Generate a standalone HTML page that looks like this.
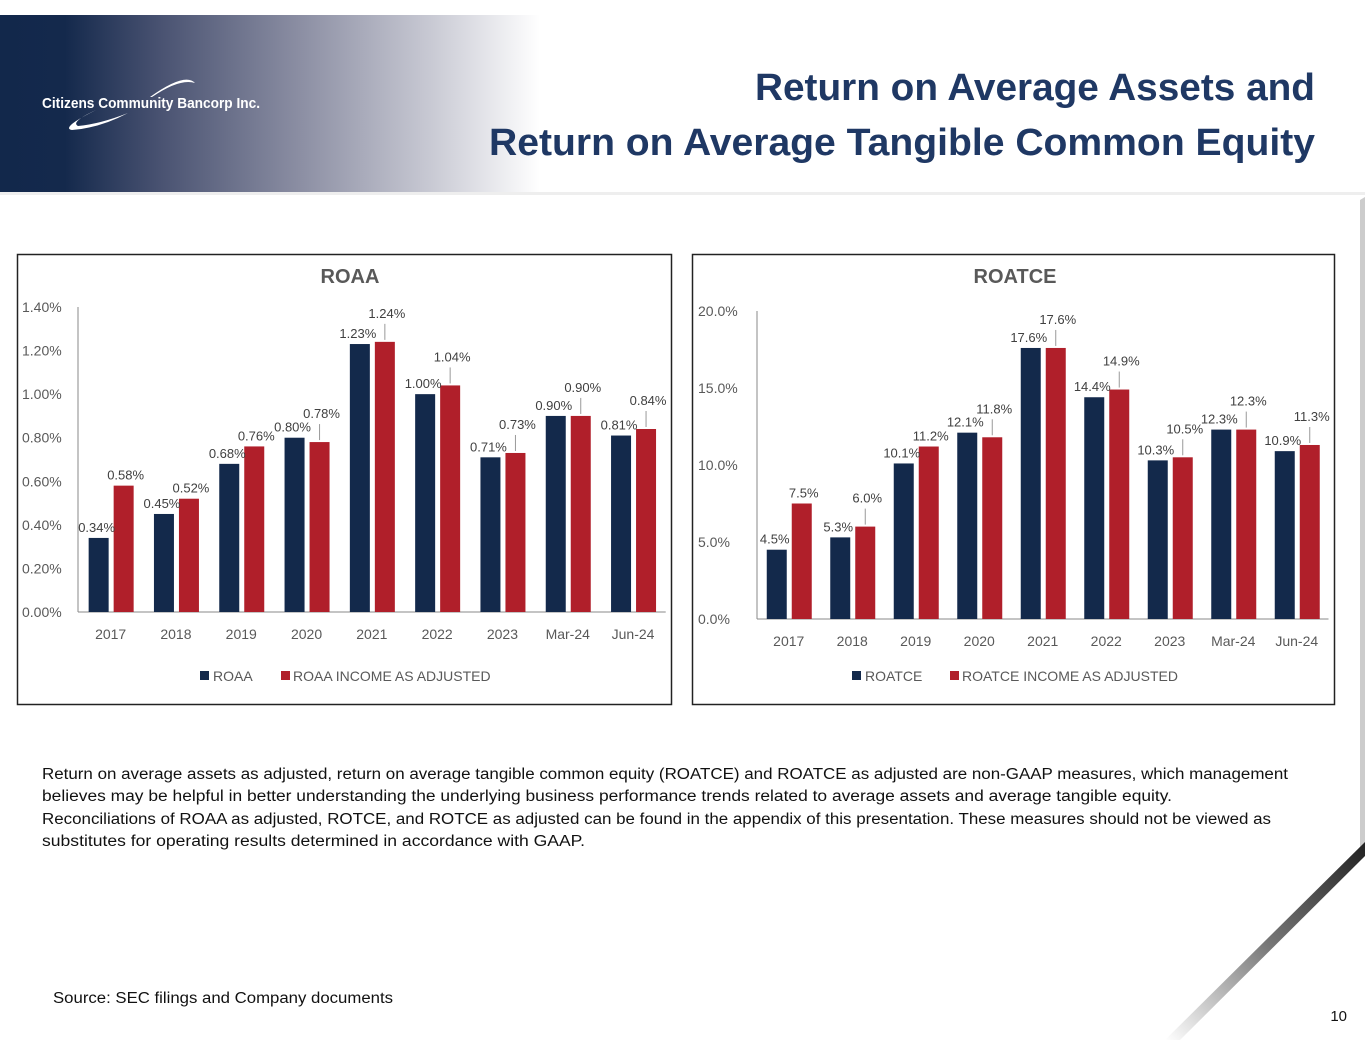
<!DOCTYPE html>
<html><head><meta charset="utf-8"><style>
html,body{margin:0;padding:0;background:#fff;}
svg{display:block;font-family:"Liberation Sans",sans-serif;}
</style></head><body>
<svg id="page" width="1365" height="1055" viewBox="0 0 1365 1055">
<defs>
<linearGradient id="hdr" x1="0" x2="1" y1="0" y2="0">
<stop offset="0" stop-color="#12284b"/><stop offset="0.12" stop-color="#14294c"/><stop offset="0.3" stop-color="#4a5372"/><stop offset="0.55" stop-color="#8a8da2"/><stop offset="0.8" stop-color="#c9cad4"/><stop offset="1" stop-color="#ffffff"/>
</linearGradient>
<linearGradient id="corner" x1="0" x2="1" y1="1" y2="0">
<stop offset="0" stop-color="#ffffff"/><stop offset="0.5" stop-color="#777"/><stop offset="1" stop-color="#222"/>
</linearGradient>
</defs>
<rect x="0" y="15" width="540" height="180" fill="url(#hdr)"/>
<rect x="0" y="192" width="1365" height="3" fill="#eee"/>
<g>
<text x="42" y="108" fill="#fff" font-size="15" font-weight="bold" textLength="218" lengthAdjust="spacingAndGlyphs">Citizens Community Bancorp Inc.</text>
<path d="M150 97 Q185 72 195 83 Q180 78 152 97 Z" fill="#fff"/>
<path d="M96 110 Q60 128 72 130 Q100 128 128 113 Q100 124 78 126 Q70 122 96 110 Z" fill="#fff"/>
</g>
<text x="1315" y="100" text-anchor="end" fill="#1f3864" font-size="38" font-weight="bold" textLength="560" lengthAdjust="spacingAndGlyphs">Return on Average Assets and</text>
<text x="1315" y="155" text-anchor="end" fill="#1f3864" font-size="38" font-weight="bold" textLength="826" lengthAdjust="spacingAndGlyphs">Return on Average Tangible Common Equity</text>

<rect x="17.5" y="254.5" width="654" height="450" fill="#fff" stroke="#222" stroke-width="1.5"/>
<rect x="692.5" y="254.5" width="642" height="450" fill="#fff" stroke="#222" stroke-width="1.5"/>
<g id="roaa"></g>
<g id="roatce"></g>

<g font-size="15.5" fill="#111">
<text x="42" y="779" textLength="1246" lengthAdjust="spacingAndGlyphs">Return on average assets as adjusted, return on average tangible common equity (ROATCE) and ROATCE as adjusted are non-GAAP measures, which management</text>
<text x="42" y="801" textLength="1130" lengthAdjust="spacingAndGlyphs">believes may be helpful in better understanding the underlying business performance trends related to average assets and average tangible equity.</text>
<text x="42" y="824" textLength="1229" lengthAdjust="spacingAndGlyphs">Reconciliations of ROAA as adjusted, ROTCE, and ROTCE as adjusted can be found in the appendix of this presentation. These measures should not be viewed as</text>
<text x="42" y="846" textLength="543" lengthAdjust="spacingAndGlyphs">substitutes for operating results determined in accordance with GAAP.</text>
</g>
<text x="53" y="1003" font-size="15.5" fill="#111" textLength="340" lengthAdjust="spacingAndGlyphs">Source: SEC filings and Company documents</text>
<text x="1347" y="1021" font-size="15" fill="#111" text-anchor="end">10</text>
<polygon points="1360,200 1365,197 1365,845 1360,850" fill="#ccc"/>
<polygon points="1365,842 1365,856 1180,1040 1165,1040" fill="url(#corner)"/>
</svg>
<script>
const categories=["2017","2018","2019","2020","2021","2022","2023","Mar-24","Jun-24"];
const roaa=[0.34,0.45,0.68,0.80,1.23,1.00,0.71,0.90,0.81];
const roaaAdj=[0.58,0.52,0.76,0.78,1.24,1.04,0.73,0.90,0.84];
const roaaTicks=[0,0.2,0.4,0.6,0.8,1.0,1.2,1.4];
const roatce=[4.5,5.3,10.1,12.1,17.6,14.4,10.3,12.3,10.9];
const roatceAdj=[7.5,6.0,11.2,11.8,17.6,14.9,10.5,12.3,11.3];
const roatceTicks=[0,5,10,15,20];
const NS="http://www.w3.org/2000/svg";
function mk(p,t,a,txt){const e=document.createElementNS(NS,t);for(const k in a)e.setAttribute(k,a[k]);if(txt!==undefined)e.textContent=txt;p.appendChild(e);return e;}
function draw(g,o){
  const y=v=>o.y0-(v-o.min)/(o.max-o.min)*(o.y0-o.y1);
  const x=i=>o.x0+o.step*(i+0.5);
  const t=mk(g,'text',{x:o.tx,y:283,'text-anchor':'middle','font-size':20,'font-weight':'bold',fill:'#595959'},o.title);
  
  o.ticks.forEach(v=>{const l=mk(g,'text',{x:o.lx,y:y(v)+5,'font-size':14,fill:'#595959'},v.toFixed(o.dec)+'%');
    });
  const ax=mk(g,'line',{x1:o.x0,x2:o.x0,y1:o.y1,y2:o.y0,stroke:'#888'});
  
  const bx=mk(g,'line',{x1:o.x0,x2:o.x0+o.step*categories.length,y1:o.y0,y2:o.y0,stroke:'#888'});
  
  categories.forEach((c,i)=>{
    const cx=x(i);
    const a=o.s1[i],b=o.s2[i];
    const r1=mk(g,'rect',{x:cx-22,y:y(a),width:20,height:o.y0-y(a),fill:'#13294b'});
    
    const r2=mk(g,'rect',{x:cx+3,y:y(b),width:20,height:o.y0-y(b),fill:'#b01f2a'});
    
    const l1=mk(g,'text',{x:cx-14,y:y(a)-6,'text-anchor':'middle','font-size':13,fill:'#404040'},a.toFixed(o.dec2)+'%');
    
    const up=Math.abs(y(a)-y(b))<14?18:0;
    if(up){mk(g,'line',{x1:cx+13,x2:cx+13,y1:y(b)-2,y2:y(b)-up,stroke:'#999'});}
    const l2=mk(g,'text',{x:cx+15,y:y(b)-6-up,'text-anchor':'middle','font-size':13,fill:'#404040'},b.toFixed(o.dec2)+'%');
    
    const xl=mk(g,'text',{x:cx,y:o.y0+27,'text-anchor':'middle','font-size':14,fill:'#595959'},c);
    
  });
  const L=o.leg;
  const s1=mk(g,'rect',{x:L[0],y:671,width:9,height:9,fill:'#13294b'});
  const t1=mk(g,'text',{x:L[0]+13,y:681,'font-size':14,fill:'#595959'},o.n1);
  const s2=mk(g,'rect',{x:L[1],y:671,width:9,height:9,fill:'#b01f2a'});
  const t2=mk(g,'text',{x:L[1]+12,y:681,'font-size':14,fill:'#595959'},o.n2);
}
draw(document.getElementById('roaa'),{title:'ROAA',tx:350,x0:78,step:65.3,y0:612,y1:307,min:0,max:1.4,ticks:roaaTicks,dec:2,dec2:2,lx:22,s1:roaa,s2:roaaAdj,k1:'roaa',k2:'roaa-adj',leg:[200,281],n1:'ROAA',n2:'ROAA INCOME AS ADJUSTED'});
draw(document.getElementById('roatce'),{title:'ROATCE',tx:1015,x0:757,step:63.5,y0:619,y1:311,min:0,max:20,ticks:roatceTicks,dec:1,dec2:1,lx:698,s1:roatce,s2:roatceAdj,k1:'roatce',k2:'roatce-adj',leg:[852,950],n1:'ROATCE',n2:'ROATCE INCOME AS ADJUSTED'});
</script>
</body></html>
